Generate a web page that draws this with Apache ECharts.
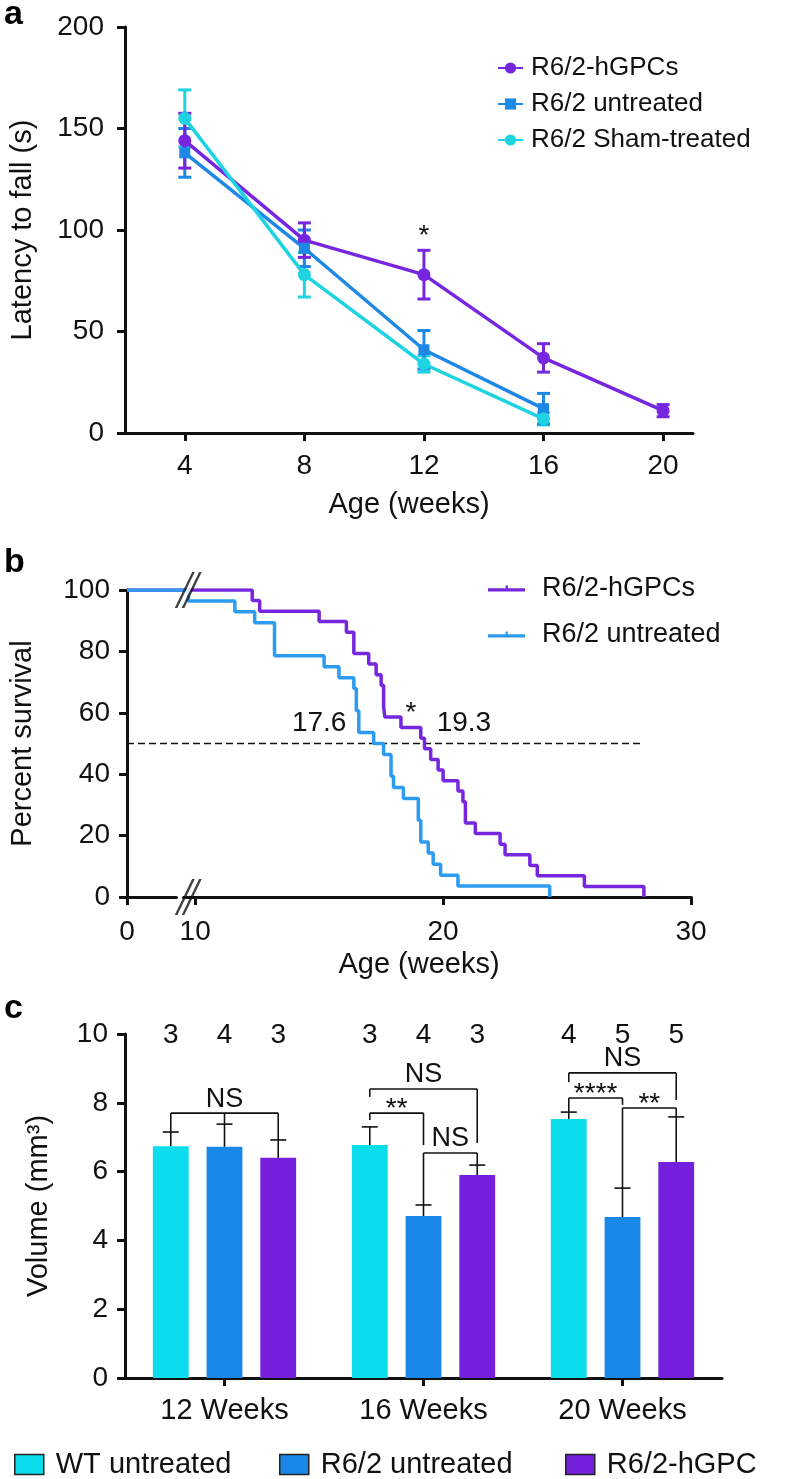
<!DOCTYPE html>
<html><head><meta charset="utf-8">
<script src="https://cdn.jsdelivr.net/npm/echarts@6/dist/echarts.min.js"></script>
<style>html,body{margin:0;padding:0;background:#fff}#c{width:788px;height:1479px}</style>
</head><body><div id="c"></div>
<script>
// ---------- Panel a: latency to fall ----------
const ageTicksA = [4, 8, 12, 16, 20];
const hgpcAge = [4, 8, 12, 16, 20];
const hgpcMean = [144, 95, 78, 37, 11];
const hgpcErr = [13.5, 8.5, 12, 7, 3];
const untrAge = [4, 8, 12, 16];
const untrMean = [138, 91, 41, 12];
const untrErr = [12, 9, 9.5, 7.5];
const shamAge = [4, 8, 12, 16];
const shamMean = [155, 78, 34, 7];
const shamErr = [14, 11, 4, 3];
const starA = [[12, 97, '*']];

// ---------- Panel b: survival (week of event, percent surviving after it) ----------
const survHgpc = [[0,100],[12.3,96.6],[12.6,93.1],[15.0,89.7],[16.1,86.2],[16.4,79.3],[17.0,75.9],[17.3,72.4],[17.5,69.0],[17.6,62.1],[17.65,58.6],[18.3,55.2],[19.1,51.7],[19.25,48.3],[19.5,44.8],[19.8,41.4],[20.0,37.9],[20.6,34.5],[20.8,31.0],[20.9,24.1],[21.3,20.7],[22.3,17.2],[22.5,13.8],[23.5,10.3],[23.8,6.9],[25.7,3.4],[28.1,0]];
const survUntr = [[0,100],[9.72,96.4],[11.6,92.9],[12.4,89.3],[13.2,78.6],[15.2,75.0],[15.8,71.4],[16.4,67.9],[16.5,60.7],[16.6,53.6],[17.2,50.0],[17.6,46.4],[17.9,39.3],[18.0,35.7],[18.4,32.1],[19.0,25.0],[19.1,17.9],[19.4,14.3],[19.6,10.7],[19.9,7.1],[20.6,3.6],[24.3,0]];
const medianLine = [[0,50],[28,50]];
const ageTicksB = [0, 10, 20, 30];
const breakMarks = [[9.72,100],[9.72,0]];
const notesB = [[15.0,56.5,'17.6'],[20.84,56.5,'19.3'],[18.7,60,'*']];

// ---------- Panel c: volume ----------
const weekCats = ['12 Weeks','16 Weeks','20 Weeks'];
const wtVol = [6.74, 6.77, 7.53];
const wtErr = [0.41, 0.53, 0.20];
const r62Vol = [6.72, 4.71, 4.68];
const r62Err = [0.66, 0.32, 0.84];
const gpcVol = [6.40, 5.90, 6.28];
const gpcErr = [0.52, 0.29, 1.31];
const nCounts = [[3,4,3],[3,4,3],[4,5,5]];
const nLevel = 9.95;
const brackets = [
  {cat:0, level:7.70, legs:[[0,7.15],[1,7.38],[2,6.92]], text:'NS'},
  {cat:1, level:8.40, legs:[[0,8.17],[2,6.83]], text:'NS'},
  {cat:1, level:7.70, legs:[[0,7.50],[1,6.77]], text:'**'},
  {cat:1, level:6.54, legs:[[1,5.03],[2,6.19]], text:'NS'},
  {cat:2, level:8.87, legs:[[0,8.60],[2,8.08]], text:'NS'},
  {cat:2, level:8.14, legs:[[0,7.73],[1,7.94]], text:'****'},
  {cat:2, level:7.85, legs:[[1,5.52],[2,7.59]], text:'**'}
];

// ---------- styling ----------
const FONT = '"Liberation Sans", Arial, Helvetica, sans-serif';
const FS = 28, FN = 29;
const PURPLE = '#7626DF', BLUE = '#1E88E6', CYAN = '#1ED3E2';
const BLUE_B = '#2D9BF0';
const CYAN_C = '#0BDDEC', BLUE_C = '#1A88E8', PURPLE_C = '#7520DD';
const INK = '#111';

const chart = echarts.init(document.getElementById('c'), null, {renderer:'canvas'});

function axisCommon(extra) {
  return Object.assign({
    axisLine: {show:true, onZero:false, lineStyle:{color:INK, width:3}},
    axisTick: {show:true, length:8, lineStyle:{color:INK, width:3}},
    axisLabel: {color:INK, fontSize:FS, fontFamily:FONT},
    splitLine: {show:false},
    nameTextStyle: {color:INK, fontSize:FN, fontFamily:FONT}
  }, extra);
}

function errSeries(ages, means, errs, color, hw) {
  return {
    type:'custom', xAxisIndex:0, yAxisIndex:0, z:3, silent:true,
    data: ages.map((a,i)=>[a, means[i], errs[i]]),
    renderItem: function(params, api){
      const x = api.value(0), y = api.value(1), e = api.value(2);
      const t = api.coord([x, y+e]), b = api.coord([x, y-e]);
      const st = {stroke:color, lineWidth:3};
      return {type:'group', children:[
        {type:'line', shape:{x1:t[0],y1:t[1],x2:b[0],y2:b[1]}, style:st},
        {type:'line', shape:{x1:t[0]-hw,y1:t[1],x2:t[0]+hw,y2:t[1]}, style:st},
        {type:'line', shape:{x1:b[0]-hw,y1:b[1],x2:b[0]+hw,y2:b[1]}, style:st}
      ]};
    }
  };
}

function textSeries(xi, yi, items, font) {
  return {
    type:'custom', xAxisIndex:xi, yAxisIndex:yi, z:10, silent:true,
    data: items.map((d,i)=>[d[0], d[1], i]),
    renderItem: function(params, api){
      const p = api.coord([api.value(0), api.value(1)]);
      const it = items[api.value(2)];
      return {type:'text', style:{text:it[2], x:p[0], y:p[1], align:'center', verticalAlign:'middle', font:font, fill:INK}};
    }
  };
}

const barVals = [wtVol, r62Vol, gpcVol];
const barErrs = [wtErr, r62Err, gpcErr];

function barOffset(api, idx) {
  const band = api.size([1,0])[0];
  const bw = band*0.18;
  return (idx-1)*bw*1.5;
}

const barErrData = [];
barVals.forEach((vals,g)=>vals.forEach((v,c)=>barErrData.push([c, v, barErrs[g][c], g])));

const nData = [];
nCounts.forEach((arr,c)=>arr.forEach((n,g)=>nData.push([c, nLevel, n, g])));

const legendNames = {
  'a-gpc':'R6/2-hGPCs','a-untr':'R6/2 untreated','a-sham':'R6/2 Sham-treated',
  'b-gpc':'R6/2-hGPCs','b-untr':'R6/2 untreated',
  'c-wt':'WT untreated','c-untr':'R6/2 untreated','c-gpc':'R6/2-hGPC'
};
const legFmt = n => legendNames[n] || n;
function legText(size, gap) { return {color:INK, fontSize:size, fontFamily:FONT, lineHeight:26, padding:[0,0,0,gap]}; }
const sqStyle = {borderColor:'#222', borderWidth:1.5};

const option = {
  animation:false,
  backgroundColor:'#fff',
  textStyle:{fontFamily:FONT},
  grid:[
    {left:124, top:27, width:569, height:406},
    {left:126, top:590, width:565, height:307},
    {left:125, top:1034, width:597, height:344}
  ],
  xAxis:[
    axisCommon({type:'value', gridIndex:0, min:2, max:21,
      axisTick:{show:true, length:8, lineStyle:{color:INK, width:3}, customValues:ageTicksA},
      axisLabel:{color:INK, fontSize:FS, fontFamily:FONT, margin:19, customValues:ageTicksA},
      name:'Age (weeks)', nameLocation:'middle', nameGap:57}),
    axisCommon({type:'value', gridIndex:1, min:0, max:30,
      breaks:[{start:2, end:9.5, gap:0.25}],
      breakArea:{show:false},
      axisTick:{show:true, length:8, lineStyle:{color:INK, width:3}, customValues:ageTicksB},
      axisLabel:{color:INK, fontSize:FS, fontFamily:FONT, margin:21, customValues:ageTicksB},
      name:'Age (weeks)', nameLocation:'middle', nameGap:53,
      nameTextStyle:{color:INK, fontSize:FN, fontFamily:FONT, padding:[0,0,0,20]}}),
    axisCommon({type:'category', gridIndex:2, data:weekCats,
      axisTick:{show:true, alignWithLabel:true, length:8, lineStyle:{color:INK, width:3}},
      axisLabel:{color:INK, fontSize:FN, fontFamily:FONT, margin:18}})
  ],
  yAxis:[
    axisCommon({type:'value', gridIndex:0, min:0, max:200, interval:50,
      axisLabel:{color:INK, fontSize:FS, fontFamily:FONT, margin:21},
      name:'Latency to fall (s)', nameLocation:'middle', nameGap:88}),
    axisCommon({type:'value', gridIndex:1, min:0, max:100, interval:20,
      axisLabel:{color:INK, fontSize:FS, fontFamily:FONT, margin:17},
      name:'Percent survival', nameLocation:'middle', nameGap:90}),
    axisCommon({type:'value', gridIndex:2, min:0, max:10, interval:2,
      axisLabel:{color:INK, fontSize:FS, fontFamily:FONT, margin:17},
      name:'Volume (mm³)', nameLocation:'middle', nameGap:72})
  ],
  legend:[
    {orient:'vertical', left:497, top:55, padding:0, itemWidth:25, itemHeight:14, itemGap:10,
     data:['a-gpc','a-untr','a-sham'], formatter:legFmt, textStyle:legText(26,3), selectedMode:false},
    {orient:'vertical', left:488, top:575, padding:0, itemWidth:37, itemHeight:7, itemGap:19,
     data:[{name:'b-gpc', icon:'path://M0,3 L40,3 L40,6.5 L0,6.5 Z M19,0 L21.5,0 L21.5,3 L19,3 Z'},
           {name:'b-untr', icon:'path://M0,3 L40,3 L40,6.5 L0,6.5 Z M19,0 L21.5,0 L21.5,3 L19,3 Z'}],
     formatter:legFmt, textStyle:legText(27,12), selectedMode:false},
    {left:14, top:1450, padding:0, itemWidth:29, itemHeight:20, itemStyle:sqStyle, data:[{name:'c-wt', icon:'rect'}], formatter:legFmt, textStyle:legText(29,7), selectedMode:false},
    {left:279, top:1450, padding:0, itemWidth:29, itemHeight:20, itemStyle:sqStyle, data:[{name:'c-untr', icon:'rect'}], formatter:legFmt, textStyle:legText(29,7), selectedMode:false},
    {left:565, top:1450, padding:0, itemWidth:29, itemHeight:20, itemStyle:sqStyle, data:[{name:'c-gpc', icon:'rect'}], formatter:legFmt, textStyle:legText(29,7), selectedMode:false}
  ],
  graphic:[
    {type:'text', left:4, top:-2, style:{text:'a', font:'bold 34px '+FONT, fill:'#000'}},
    {type:'text', left:4, top:546, style:{text:'b', font:'bold 34px '+FONT, fill:'#000'}},
    {type:'text', left:4, top:992, style:{text:'c', font:'bold 34px '+FONT, fill:'#000'}}
  ],
  series:[
    // panel a
    errSeries(shamAge, shamMean, shamErr, CYAN, 6.5),
    errSeries(untrAge, untrMean, untrErr, BLUE, 6.5),
    errSeries(hgpcAge, hgpcMean, hgpcErr, PURPLE, 6.5),
    {name:'a-gpc', type:'line', xAxisIndex:0, yAxisIndex:0, z:4, data:hgpcAge.map((a,i)=>[a,hgpcMean[i]]),
     symbol:'circle', symbolSize:13, lineStyle:{color:PURPLE, width:3.5}, itemStyle:{color:PURPLE}},
    {name:'a-untr', type:'line', xAxisIndex:0, yAxisIndex:0, z:4, data:untrAge.map((a,i)=>[a,untrMean[i]]),
     symbol:'rect', symbolSize:11, lineStyle:{color:BLUE, width:3.5}, itemStyle:{color:BLUE}},
    {name:'a-sham', type:'line', xAxisIndex:0, yAxisIndex:0, z:4, data:shamAge.map((a,i)=>[a,shamMean[i]]),
     symbol:'circle', symbolSize:13, lineStyle:{color:CYAN, width:3.5}, itemStyle:{color:CYAN}},
    textSeries(0, 0, starA, '28px '+FONT),
    // panel b
    {name:'median', type:'line', xAxisIndex:1, yAxisIndex:1, data:medianLine, symbol:'none', silent:true,
     lineStyle:{color:INK, width:1.6, type:[7,4]}},
    {name:'b-gpc', type:'line', xAxisIndex:1, yAxisIndex:1, step:'end', data:survHgpc, symbol:'none',
     lineStyle:{color:PURPLE, width:3.5}, itemStyle:{color:PURPLE}},
    {name:'b-untr', type:'line', xAxisIndex:1, yAxisIndex:1, step:'end', data:survUntr, symbol:'none',
     lineStyle:{color:BLUE_B, width:3.5}, itemStyle:{color:BLUE_B}},
    {type:'scatter', xAxisIndex:1, yAxisIndex:1, z:8, silent:true, data:[breakMarks[0]],
     symbol:'path://M3,36 L8,36 L28,0 L23,0 Z', symbolSize:[24,36], itemStyle:{color:'#fff'}},
    {type:'scatter', xAxisIndex:1, yAxisIndex:1, z:9, silent:true, data:breakMarks,
     symbol:'path://M0,36 L3,36 L23,0 L20,0 Z M8,36 L11,36 L31,0 L28,0 Z', symbolSize:[27,36], itemStyle:{color:INK}},
    textSeries(1, 1, notesB, '28px '+FONT),
    // panel c
    {name:'c-wt', type:'bar', xAxisIndex:2, yAxisIndex:2, data:wtVol, barWidth:'18%', barGap:'50%',
     itemStyle:{color:CYAN_C}},
    {name:'c-untr', type:'bar', xAxisIndex:2, yAxisIndex:2, data:r62Vol, barWidth:'18%', barGap:'50%',
     itemStyle:{color:BLUE_C}},
    {name:'c-gpc', type:'bar', xAxisIndex:2, yAxisIndex:2, data:gpcVol, barWidth:'18%', barGap:'50%',
     itemStyle:{color:PURPLE_C}},
    {type:'custom', xAxisIndex:2, yAxisIndex:2, z:5, silent:true, data:barErrData,
     renderItem:function(params, api){
       const c = api.value(0), v = api.value(1), e = api.value(2), g = api.value(3);
       const off = barOffset(api, g);
       const b = api.coord([c, v]), t = api.coord([c, v+e]);
       const x = b[0]+off, hw = 8;
       const st = {stroke:INK, lineWidth:1.6};
       return {type:'group', children:[
         {type:'line', shape:{x1:x,y1:b[1],x2:x,y2:t[1]}, style:st},
         {type:'line', shape:{x1:x-hw,y1:t[1],x2:x+hw,y2:t[1]}, style:st}
       ]};
     }},
    {type:'custom', xAxisIndex:2, yAxisIndex:2, z:5, silent:true, data:brackets.map((b,i)=>[b.cat, b.level, i]),
     renderItem:function(params, api){
       const b = brackets[api.value(2)];
       const cx = api.coord([b.cat, 0])[0];
       const yL = api.coord([b.cat, b.level])[1];
       const xs = b.legs.map(l => cx + barOffset(api, l[0]));
       const st = {stroke:INK, lineWidth:1.6};
       const ch = [{type:'line', shape:{x1:xs[0],y1:yL,x2:xs[xs.length-1],y2:yL}, style:st}];
       b.legs.forEach((l,k)=>{
         const yb = api.coord([b.cat, l[1]])[1];
         ch.push({type:'line', shape:{x1:xs[k],y1:yL,x2:xs[k],y2:yb}, style:st});
       });
       const star = b.text.indexOf('*')>=0;
       ch.push({type:'text', style:{text:b.text, x:(xs[0]+xs[xs.length-1])/2, y:yL-(star?4:14),
         align:'center', verticalAlign:'middle', font:(star?'28px ':'27px ')+FONT, fill:INK}});
       return {type:'group', children:ch};
     }},
    {type:'custom', xAxisIndex:2, yAxisIndex:2, z:5, silent:true, data:nData,
     renderItem:function(params, api){
       const c = api.value(0), v = api.value(1), n = api.value(2), g = api.value(3);
       const p = api.coord([c, v]);
       return {type:'text', style:{text:String(n), x:p[0]+barOffset(api, g), y:p[1], align:'center',
         verticalAlign:'middle', font:FS+'px '+FONT, fill:INK}};
     }}
  ]
};
chart.setOption(option);
</script></body></html>
